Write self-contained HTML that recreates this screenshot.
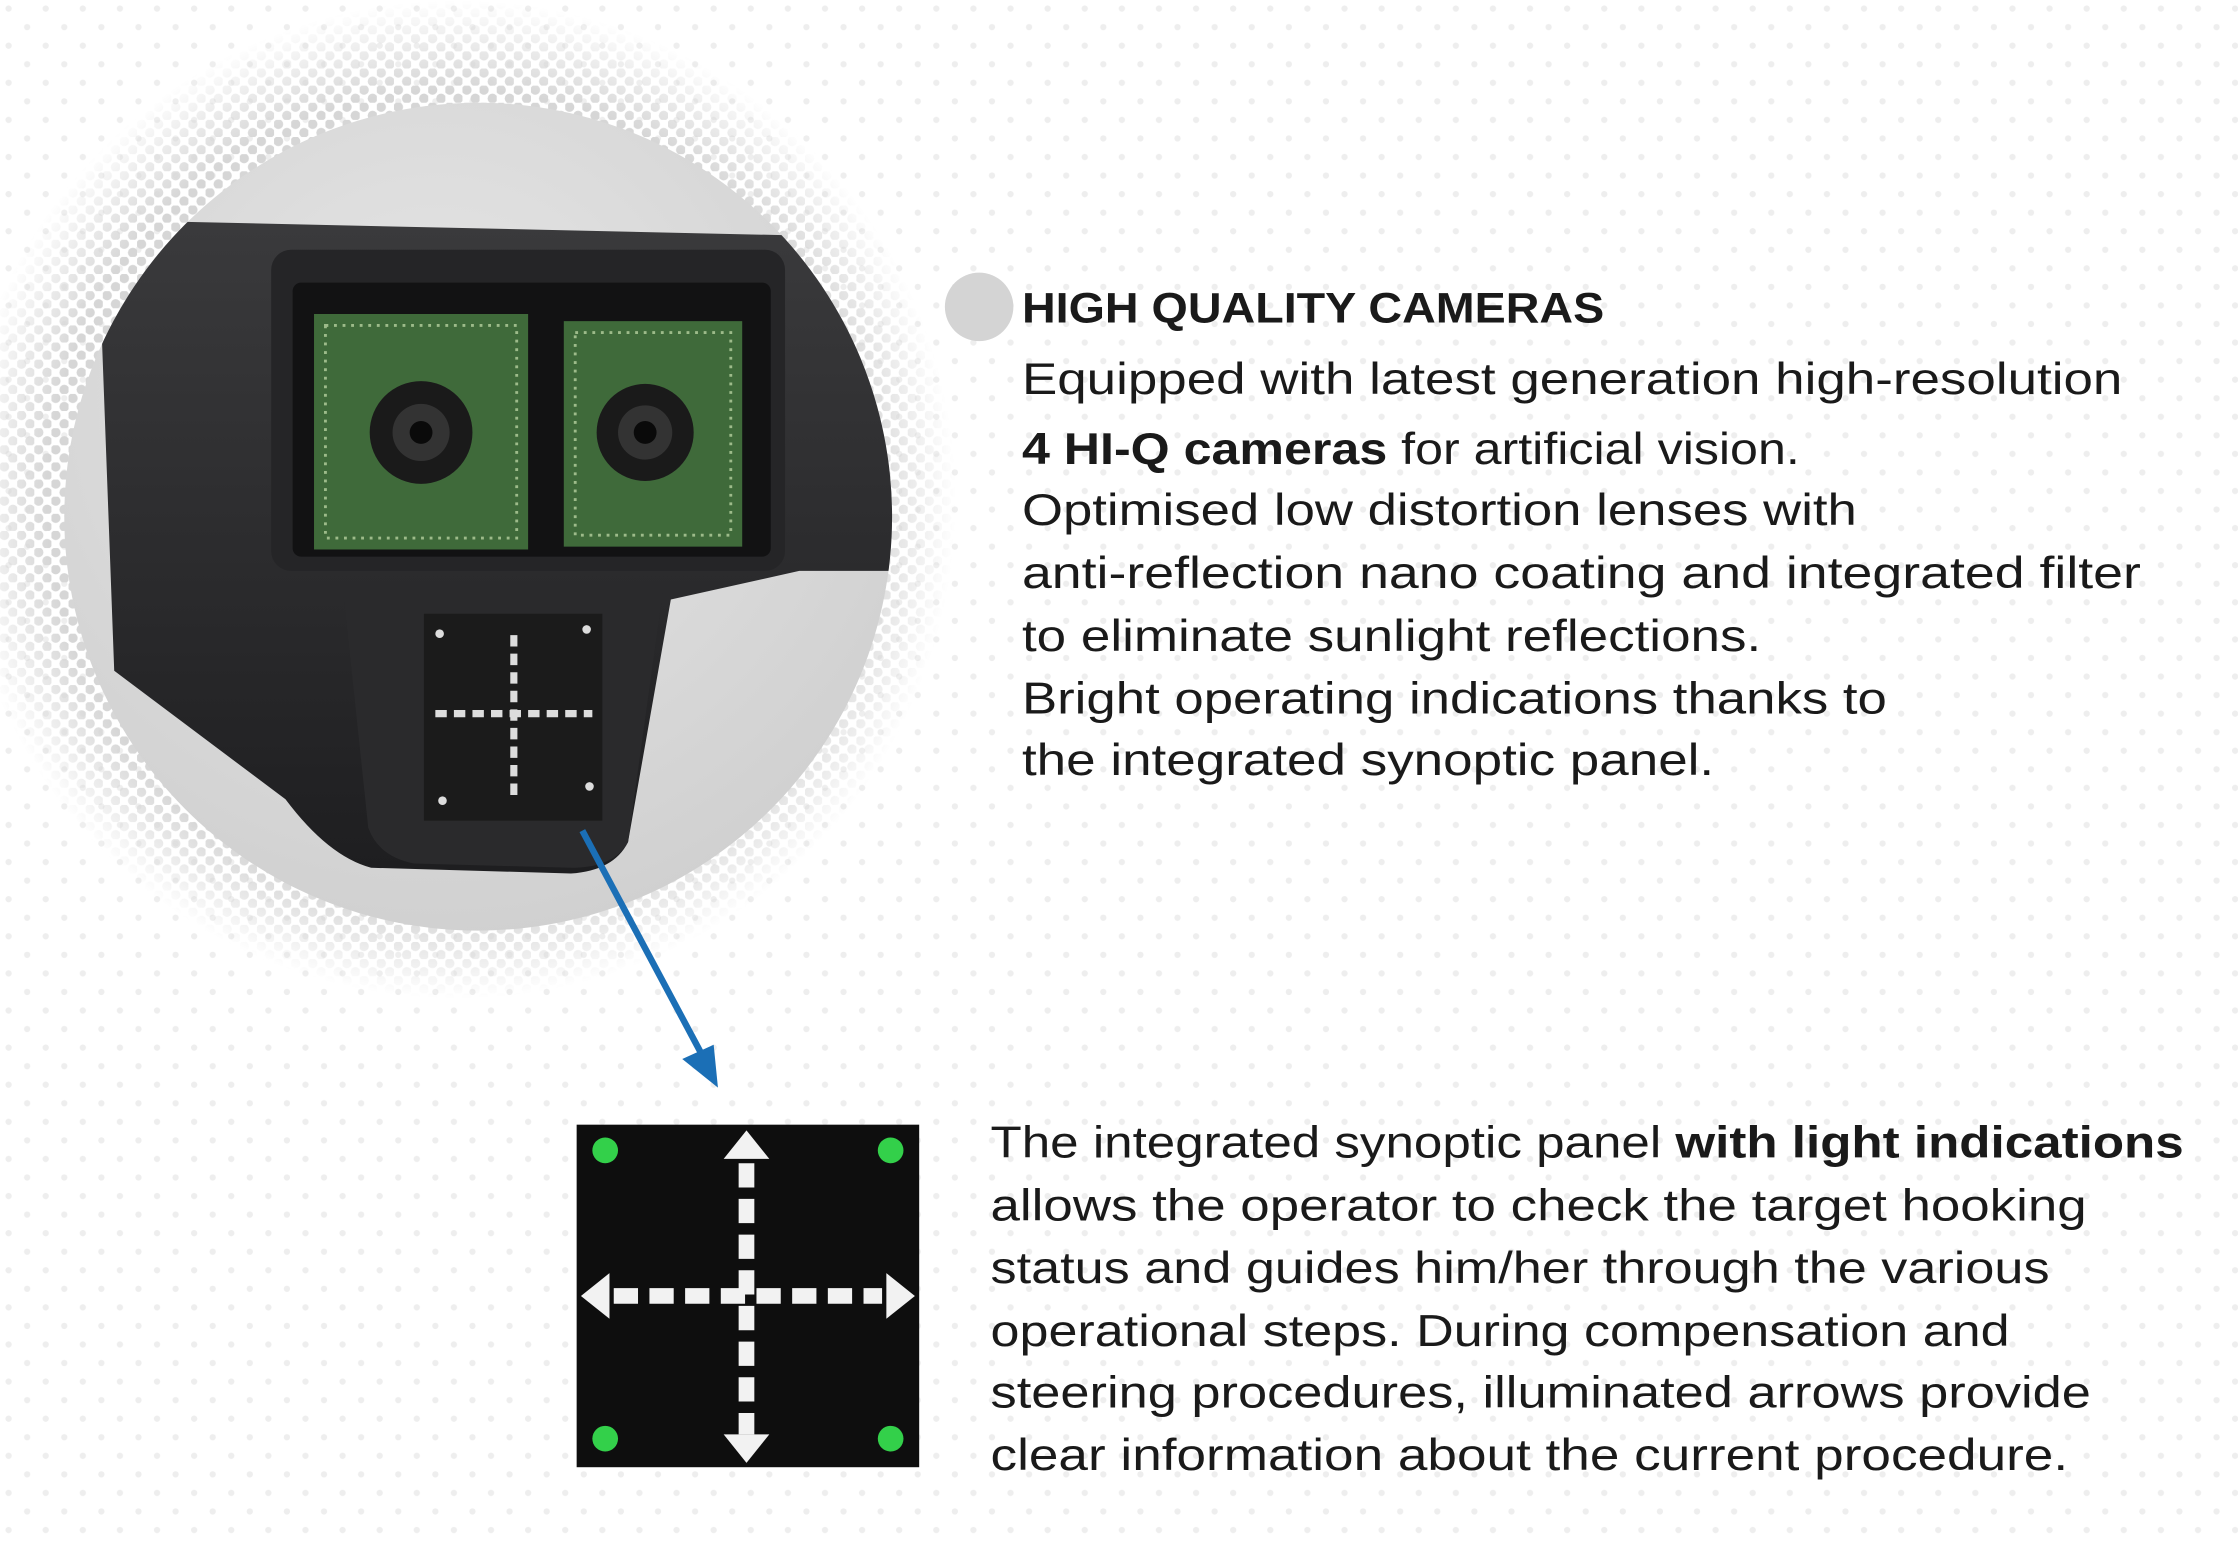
<!DOCTYPE html>
<html><head><meta charset="utf-8"><style>
html,body{margin:0;padding:0;background:#fff;}
svg{display:block;}
text{font-family:"Liberation Sans",sans-serif;fill:#1a1a1a;}
</style></head><body>
<svg width="2238" height="1545" viewBox="0 0 1568 1082.5" xmlns="http://www.w3.org/2000/svg">
<defs>
<pattern id="bg" width="26" height="26" patternUnits="userSpaceOnUse"><circle cx="6" cy="6" r="2.2" fill="#eeeeee"/><circle cx="19" cy="19" r="2.2" fill="#eeeeee"/></pattern>
<pattern id="ht" width="12" height="12" patternUnits="userSpaceOnUse"><circle cx="3" cy="3" r="3.4" fill="#d6d6d6"/><circle cx="9" cy="9" r="3.4" fill="#d6d6d6"/></pattern>
<radialGradient id="hm" cx="0.5" cy="0.5" r="0.5"><stop offset="0.82" stop-color="#fff"/><stop offset="1" stop-color="#000"/></radialGradient>
<mask id="hmask"><circle cx="320" cy="350" r="350" fill="url(#hm)"/></mask>
<radialGradient id="cg" cx="0.45" cy="0.35" r="0.7"><stop offset="0" stop-color="#e6e6e6"/><stop offset="1" stop-color="#cfcfcf"/></radialGradient>
<clipPath id="cc"><circle cx="335" cy="362" r="290"/></clipPath>
<linearGradient id="body" x1="0" y1="0" x2="0" y2="1"><stop offset="0" stop-color="#3a3a3c"/><stop offset="1" stop-color="#1e1e20"/></linearGradient>
</defs>
<rect width="1568" height="1083" fill="url(#bg)"/>
<rect x="0" y="0" width="700" height="720" fill="url(#ht)" mask="url(#hmask)"/>
<circle cx="335" cy="362" r="290" fill="url(#cg)"/>
<g clip-path="url(#cc)">
  <path d="M110 155 L560 165 Q600 170 610 200 L640 200 L640 400 L560 400 L470 420 L440 590 Q430 610 400 612 L260 608 Q230 600 200 560 L80 470 L70 200 Q80 158 110 155Z" fill="url(#body)"/>
  <rect x="190" y="175" width="360" height="225" rx="14" fill="#252527"/>
  <rect x="205" y="198" width="335" height="192" rx="6" fill="#121213"/>
  <rect x="220" y="220" width="150" height="165" fill="#3f6a3a"/>
  <rect x="395" y="225" width="125" height="158" fill="#3f6a3a"/>
  <rect x="228" y="228" width="134" height="149" fill="none" stroke="#9dbb8a" stroke-width="2" stroke-dasharray="2 4"/>
  <rect x="403" y="233" width="109" height="142" fill="none" stroke="#9dbb8a" stroke-width="2" stroke-dasharray="2 4"/>
  <circle cx="295" cy="303" r="36" fill="#1a1a1a"/><circle cx="295" cy="303" r="20" fill="#333"/><circle cx="295" cy="303" r="8" fill="#0a0a0a"/>
  <circle cx="452" cy="303" r="34" fill="#1a1a1a"/><circle cx="452" cy="303" r="19" fill="#333"/><circle cx="452" cy="303" r="8" fill="#0a0a0a"/>
  <path d="M240 410 L465 410 L440 590 Q430 608 400 608 L290 605 Q265 600 258 580Z" fill="#2a2a2c"/>
  <rect x="297" y="430" width="125" height="145" fill="#1b1b1b"/>
  <g stroke="#ddd" stroke-width="5" stroke-dasharray="8 5"><line x1="360" y1="445" x2="360" y2="560"/><line x1="305" y1="500" x2="415" y2="500"/></g>
  <g fill="#ddd"><circle cx="308" cy="444" r="3"/><circle cx="411" cy="441" r="3"/><circle cx="310" cy="561" r="3"/><circle cx="413" cy="551" r="3"/></g>
</g>
<line x1="408" y1="582" x2="495" y2="745" stroke="#1b6fb6" stroke-width="4.5"/>
<polygon points="503,762 478,742 500,732" fill="#1b6fb6"/>
<circle cx="686" cy="215" r="24" fill="#d4d4d4"/>
<text x="716" y="226" font-size="30" font-weight="900" textLength="408" lengthAdjust="spacingAndGlyphs">HIGH QUALITY CAMERAS</text>
<g font-size="31">
<text x="716" y="276" textLength="771" lengthAdjust="spacingAndGlyphs">Equipped with latest generation high-resolution</text>
<text x="716" y="325" textLength="545" lengthAdjust="spacingAndGlyphs"><tspan font-weight="bold">4 HI-Q cameras</tspan> for artificial vision.</text>
<text x="716" y="368" textLength="585" lengthAdjust="spacingAndGlyphs">Optimised low distortion lenses with</text>
<text x="716" y="412" textLength="784" lengthAdjust="spacingAndGlyphs">anti-reflection nano coating and integrated filter</text>
<text x="716" y="456" textLength="518" lengthAdjust="spacingAndGlyphs">to eliminate sunlight reflections.</text>
<text x="716" y="500" textLength="606" lengthAdjust="spacingAndGlyphs">Bright operating indications thanks to</text>
<text x="716" y="543" textLength="485" lengthAdjust="spacingAndGlyphs">the integrated synoptic panel.</text>
<text x="694" y="811" textLength="836" lengthAdjust="spacingAndGlyphs">The integrated synoptic panel <tspan font-weight="bold">with light indications</tspan></text>
<text x="694" y="855" textLength="768" lengthAdjust="spacingAndGlyphs">allows the operator to check the target hooking</text>
<text x="694" y="899" textLength="742" lengthAdjust="spacingAndGlyphs">status and guides him/her through the various</text>
<text x="694" y="943" textLength="714" lengthAdjust="spacingAndGlyphs">operational steps. During compensation and</text>
<text x="694" y="986" textLength="771" lengthAdjust="spacingAndGlyphs">steering procedures, illuminated arrows provide</text>
<text x="694" y="1030" textLength="755" lengthAdjust="spacingAndGlyphs">clear information about the current procedure.</text>
</g>
<rect x="404" y="788" width="240" height="240" fill="#0e0e0e"/>
<g stroke="#f2f2f2" stroke-width="11" stroke-dasharray="17 8">
<line x1="523" y1="815" x2="523" y2="1005"/><line x1="430" y1="908" x2="618" y2="908"/></g>
<g fill="#f2f2f2">
<polygon points="523,792 539,812 507,812"/><polygon points="523,1025 539,1005 507,1005"/>
<polygon points="407,908 427,892 427,924"/><polygon points="641,908 621,892 621,924"/></g>
<g fill="#33d04a"><circle cx="424" cy="806" r="9"/><circle cx="624" cy="806" r="9"/><circle cx="424" cy="1008" r="9"/><circle cx="624" cy="1008" r="9"/></g>
</svg>
</body></html>
